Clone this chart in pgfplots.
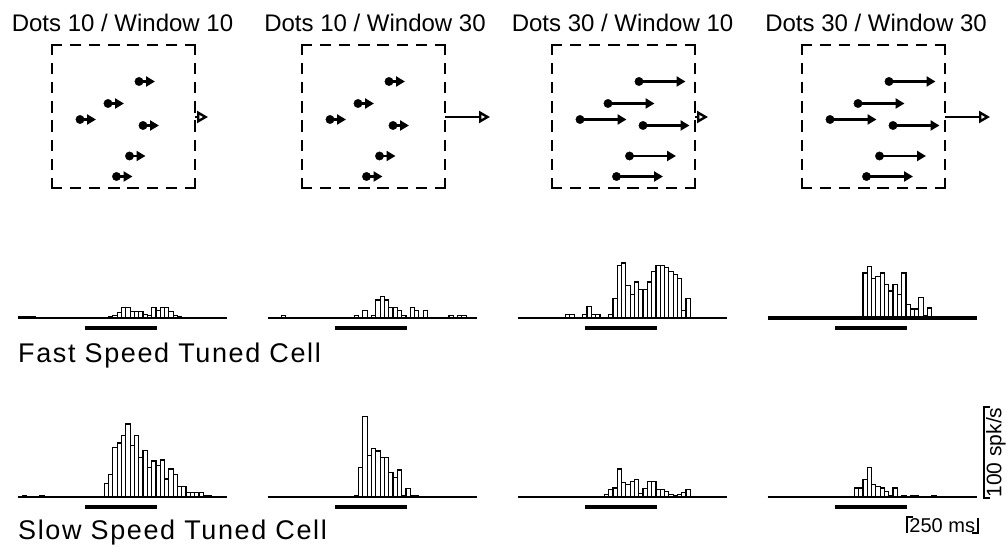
\documentclass[border=0pt]{standalone}
\usepackage{fontspec}
\setmainfont{Liberation Sans}
\usepackage{pgfplots}
\pgfplotsset{compat=1.18}
\usetikzlibrary{arrows.meta}

\pgfplotsset{
  hist/.style={hide axis, scale only axis, width=209pt, height=90pt,
    xmin=-235, xmax=493.5, ymin=0, ymax=100, clip=false, anchor=south west},
  bars/.style={ybar, bar width=15, bar shift=0pt, draw=black, fill=white, line width=1.2pt},
  base/.style={black, line width=1.8pt},
  stim/.style={black, line width=4pt},
  dots/.style={hide axis, scale only axis, width=143pt, height=143pt,
    xmin=0, xmax=143, ymin=0, ymax=143, y dir=reverse, clip=false, anchor=north west},
  side/.style={black, line width=2.8pt, line cap=rect, dash pattern=on 8.5pt off 10.71pt},
}

\pgfplotstableread{
x y
87 36.5
56 58.5
28 74.5
91 80.5
77.5 111
64.5 131.5
}\dotpos

\newcommand{\dotbox}[4]{% #1 left x, #2 dot arrow length, #3 window arrow length, #4 title centre
\begin{axis}[dots, at={(#1pt,503pt)}]
\addplot[side] coordinates {(0,0) (143,0)};
\addplot[side] coordinates {(143,0) (143,143)};
\addplot[side] coordinates {(143,143) (0,143)};
\addplot[side] coordinates {(0,143) (0,0)};
\addplot[black, quiver={u=#2, v=0,
   every arrow/.append style={line width=2.4pt, -{Triangle[length=9pt,width=10pt]}}}] table[x=x,y=y] {\dotpos};
\addplot[only marks, mark=*, mark size=4.2pt, black] table[x=x,y=y] {\dotpos};
\addplot[black, quiver={u=#3, v=0,
   every arrow/.append style={line width=2.4pt, -{Triangle[open,length=11pt,width=12pt]}}}] coordinates {(143,72)};
\end{axis}
\node[anchor=base, inner sep=0pt, font=\fontsize{24}{28}\selectfont] at (#4pt,516pt) {Dots \ifdim#2pt<20pt 10\else 30\fi\ / Window \ifdim#3pt<20pt 10\else 30\fi};
}

\begin{document}
\begin{tikzpicture}
\path[use as bounding box] (0pt,0pt) rectangle (1008pt,548pt);

\dotbox{52}{16}{13}{122.5}
\dotbox{302}{16}{45}{375}
\dotbox{552}{46.5}{13}{622.5}
\dotbox{802}{46.5}{45}{876}

% ---------- Fast speed tuned cell ----------
\begin{axis}[hist, at={(17.5pt,230pt)}]
\addplot[bars] table {
x y
-225 2
-210 2
-195 2
-180 2
90 2
105 3
120 6
135 12
150 12
165 7
180 7
195 7
210 4
225 3
240 12
255 8
270 12
285 12
300 7
315 3
330 2
};
\addplot[base] coordinates {(-235,0) (493.5,0)};
\addplot[stim] coordinates {(0,-11) (250,-11)};
\end{axis}

\begin{axis}[hist, at={(267.5pt,230pt)}]
\addplot[bars] table {
x y
-180 3
75 3
105 8
135 3
150 20
165 24
180 20
195 12
210 12
225 8
240 3
270 12
285 8
315 8
405 3
435 3
450 3
};
\addplot[base] coordinates {(-235,0) (493.5,0)};
\addplot[stim] coordinates {(0,-11) (250,-11)};
\end{axis}

\begin{axis}[hist, at={(517.5pt,230pt)}]
\addplot[bars] table {
x y
-60 4
-45 4
0 4
15 13
30 4
45 4
90 4
105 22
120 58
135 61
150 36
165 26
180 40
195 32
210 32
225 40
240 52
255 58
270 58
285 56
300 52
315 48
330 44
345 8
360 22
};
\addplot[base] coordinates {(-235,0) (493.5,0)};
\addplot[stim] coordinates {(0,-11) (250,-11)};
\end{axis}

\begin{axis}[hist, at={(767.5pt,230pt)}]
\addplot[bars] table {
x y
105 50
120 57
135 44
150 46
165 50
180 37
195 30
210 37
225 26
240 50
255 15
270 10
285 10
300 23
315 3
330 11
360 2
};
\addplot[black, line width=3.5pt] coordinates {(-235,0) (493.5,0)};
\addplot[stim] coordinates {(0,-11) (250,-11)};
\end{axis}

% ---------- Slow speed tuned cell ----------
\begin{axis}[hist, at={(17.5pt,51pt)}]
\addplot[bars] table {
x y
-210 2
-150 2
75 15
90 25
105 55
120 60
135 68
150 81
165 57
180 68
195 44
210 52
225 33
240 40
255 35
270 41
285 20
300 31
315 25
330 12
345 12
360 5
375 5
390 5
405 5
420 2
435 2
};
\addplot[base] coordinates {(-235,0) (493.5,0)};
\addplot[stim] coordinates {(0,-11) (250,-11)};
\end{axis}

\begin{axis}[hist, at={(267.5pt,51pt)}]
\addplot[bars] table {
x y
75 2
90 33
105 89
120 46
135 54
150 51
165 44
180 44
195 27
210 22
225 30
240 2
255 9
270 2
285 2
};
\addplot[base] coordinates {(-235,0) (493.5,0)};
\addplot[stim] coordinates {(0,-11) (250,-11)};
\end{axis}

\begin{axis}[hist, at={(517.5pt,51pt)}]
\addplot[bars] table {
x y
75 3
90 8
105 10
120 31
135 16
150 14
165 17
180 19
195 4
210 9
225 17
240 17
255 8
270 8
285 6
300 3
315 2
330 3
345 5
360 8
};
\addplot[base] coordinates {(-235,0) (493.5,0)};
\addplot[stim] coordinates {(0,-11) (250,-11)};
\end{axis}

\begin{axis}[hist, at={(767.5pt,51pt)}]
\addplot[bars] table {
x y
75 10
90 10
105 19
120 33
135 14
150 12
165 10
180 6
195 2
210 10
240 1
270 2
285 2
345 1
};
\addplot[base] coordinates {(-235,0) (493.5,0)};
\addplot[stim] coordinates {(0,-11) (250,-11)};
% scale bars
\addplot[black, line width=1.8pt] coordinates {(541,100) (520,100) (520,-1) (541,-1)};
\addplot[black, line width=1.8pt] coordinates {(271,-22) (250,-22) (250,-40)};
\addplot[black, line width=1.8pt] coordinates {(500,-23) (500,-40) (479,-40)};
\node[anchor=base, inner sep=0pt, font=\fontsize{20}{22}\selectfont] at (axis cs:374,-40) {250 ms};
\node[anchor=base, rotate=90, inner sep=0pt, font=\fontsize{21}{23}\selectfont] at (axis cs:580,49.5) {100 spk/s};
\end{axis}

\node[anchor=base west, inner sep=0pt, font=\fontsize{27}{30}\selectfont\addfontfeature{LetterSpace=6}] at (18pt,185pt) {Fast Speed Tuned Cell};
\node[anchor=base west, inner sep=0pt, font=\fontsize{27}{30}\selectfont\addfontfeature{LetterSpace=6}] at (18pt,8pt) {Slow Speed Tuned Cell};
\end{tikzpicture}
\end{document}
